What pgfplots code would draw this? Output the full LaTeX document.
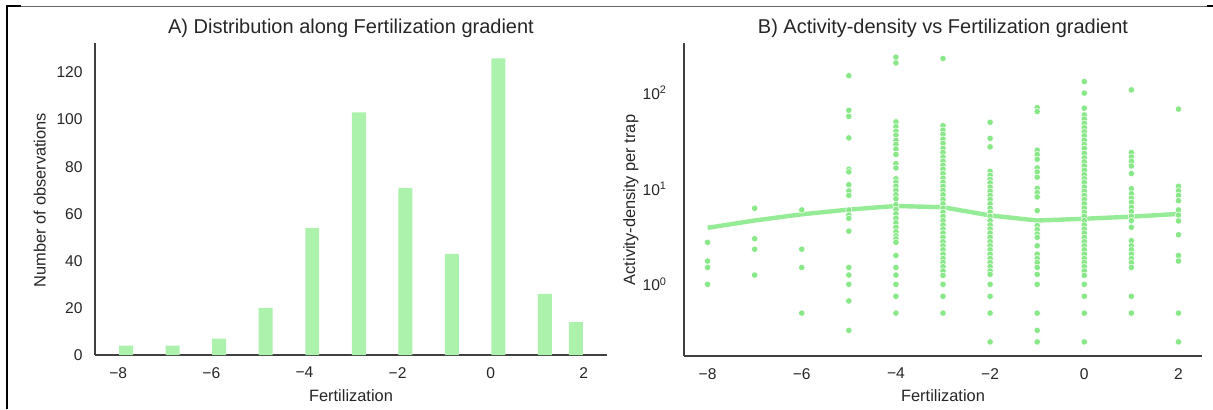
\documentclass[border=0pt]{standalone}
\usepackage{fontspec}
\setmainfont{Liberation Sans}
\usepackage{pgfplots}
\pgfplotsset{compat=1.18}
\definecolor{barg}{RGB}{172,242,172}
\definecolor{dotg}{RGB}{136,232,136}
\definecolor{lineg}{RGB}{150,236,150}
\definecolor{spine}{RGB}{64,64,64}
\definecolor{txt}{RGB}{38,38,38}

\pgfplotsset{
  panel/.style={
    scale only axis, anchor=south west,
    axis x line*=bottom, axis y line*=left,
    axis line style={-, spine, line width=0.6pt},
    major tick length=0pt, minor tick length=0pt,
    enlargelimits=false,
    xmin=-8.5, xmax=2.5,
    xtick={-8,-6,-4,-2,0,2},
    xticklabels={−8,−6,−4,−2,0,2},
    ticklabel style={font=\fontsize{7.8}{9}\selectfont, text=txt},
    xticklabel style={anchor=north, inner sep=0pt, yshift=-5.85pt},
  }
}

\begin{document}
\begin{tikzpicture}
\useasboundingbox (0,0) rectangle (606.5pt,204.5pt);

% frame lines from the screenshot
\draw[line width=0.5pt, black!60] (3.25pt,201.3pt) -- (606.5pt,201.3pt);
\draw[line width=1pt, black] (3.25pt,0pt) -- (3.25pt,201.3pt) -- (10.5pt,201.3pt);
\draw[line width=1pt, black] (603.5pt,201.3pt) -- (606.5pt,201.3pt);

% A) histogram
\begin{axis}[panel, at={(47.5pt,27pt)}, width=256pt, height=156pt,
  ymin=0, ymax=132.5,
  ytick={0,20,40,60,80,100,120},
  yticklabels={0,20,40,60,80,100,120},
  yticklabel style={anchor=east, inner sep=0pt, xshift=-6pt}]
\addplot[ybar, bar width=0.3, bar shift=0pt, fill=barg, draw=none] coordinates {
  (-7.833,4) (-6.833,4) (-5.833,7) (-4.833,20) (-3.833,54) (-2.833,103)
  (-1.833,71) (-0.833,43) (0.167,126) (1.167,26) (1.833,14)
};
\end{axis}

% B) scatter, log y
\begin{axis}[panel, at={(342pt,26.5pt)}, width=259pt, height=156.5pt,
  ymode=log, ymin=0.178, ymax=334,
  ytick={1,10,100},
  yticklabels={10\textsuperscript{0},10\textsuperscript{1},10\textsuperscript{2}},
  yticklabel style={anchor=east, inner sep=0pt, xshift=-8.3pt}]
\addplot[lineg, line width=2.2pt, no marks] coordinates {
  (-8,3.9) (-7,4.65) (-6,5.4) (-5,6.05) (-4,6.6) (-3,6.4)
  (-2,5.25) (-1,4.65) (0,4.85) (1,5.1) (2,5.45)
};
\addplot[only marks, mark=*, mark size=1.6pt,
  mark options={fill=dotg, draw=white, line width=0.25pt}] coordinates {
  (-8,2.75) (-8,1.75) (-8,1.5) (-8,1.0)
  (-7,6.25) (-7,3.0) (-7,2.33) (-7,1.25)
  (-6,6.0) (-6,2.33) (-6,1.5) (-6,0.5)
  (-5,152) (-5,66) (-5,57) (-5,34) (-5,16) (-5,15) (-5,11) (-5,9.5) (-5,8.5)
  (-5,6) (-5,5.3) (-5,4.9) (-5,3.6) (-5,1.5) (-5,1.25) (-5,1.0) (-5,0.67) (-5,0.33)
  (-4,237) (-4,207) (-4,50) (-4,44.5) (-4,40) (-4,36.4) (-4,32) (-4,29) (-4,26)
  (-4,22.8) (-4,18.3) (-4,16.5) (-4,12.7) (-4,11.7) (-4,10.6) (-4,9.6) (-4,8.65)
  (-4,7.85) (-4,6.8) (-4,6.06) (-4,5.46) (-4,4.9) (-4,4.4) (-4,3.95) (-4,3.55)
  (-4,3.22) (-4,3.0) (-4,2.75) (-4,2.0) (-4,1.5) (-4,1.25) (-4,1.0) (-4,0.75) (-4,0.5)
  (-3,230) (-3,45.6) (-3,41) (-3,37) (-3,33) (-3,29.8) (-3,26.4) (-3,23.9) (-3,21.5)
  (-3,19.4) (-3,17.6) (-3,16) (-3,14.4) (-3,12.9) (-3,11.7) (-3,10.6) (-3,9.6)
  (-3,8.65) (-3,7.7) (-3,6.95) (-3,6.25) (-3,5.67) (-3,5.15) (-3,4.63) (-3,4.18)
  (-3,3.79) (-3,3.44) (-3,3.1) (-3,2.79) (-3,2.53) (-3,2.3) (-3,2.07) (-3,1.86)
  (-3,1.69) (-3,1.53) (-3,1.38) (-3,1.24) (-3,1.0) (-3,0.75) (-3,0.5)
  (-2,49.5) (-2,33.6) (-2,27.4) (-2,15.2) (-2,13.8) (-2,12.5) (-2,11.5) (-2,10.4)
  (-2,9.4) (-2,8.5) (-2,7.7) (-2,6.95) (-2,6.25) (-2,5.67) (-2,5.15) (-2,4.63)
  (-2,4.18) (-2,3.79) (-2,3.44) (-2,3.1) (-2,2.79) (-2,2.53) (-2,2.3) (-2,2.07)
  (-2,1.86) (-2,1.69) (-2,1.53) (-2,1.38) (-2,1.27) (-2,1.0) (-2,0.75) (-2,0.5) (-2,0.25)
  (-1,70.6) (-1,64.1) (-1,25.3) (-1,22.8) (-1,20.3) (-1,16.5) (-1,15) (-1,13.2)
  (-1,10.1) (-1,9.1) (-1,8.2) (-1,5.9) (-1,4.11) (-1,3.73) (-1,3.36) (-1,3.1)
  (-1,2.53) (-1,2.07) (-1,1.86) (-1,1.69) (-1,1.5) (-1,1.27) (-1,1.0) (-1,0.5)
  (-1,0.33) (-1,0.25)
  (0,132) (0,100) (0,69.5) (0,59.1) (0,53.6) (0,48.3) (0,43.5) (0,39.4) (0,35.8)
  (0,32.2) (0,29) (0,26.4) (0,23.4) (0,21) (0,19.1) (0,17.3) (0,15.6) (0,14)
  (0,12.7) (0,11.6) (0,10.4) (0,9.4) (0,8.5) (0,7.7) (0,6.95) (0,6.25) (0,5.67)
  (0,5.15) (0,4.63) (0,4.18) (0,3.79) (0,3.44) (0,3.1) (0,2.79) (0,2.53) (0,2.3)
  (0,2.07) (0,1.86) (0,1.69) (0,1.53) (0,1.38) (0,1.24) (0,1.0) (0,0.75) (0,0.5) (0,0.25)
  (1,108) (1,23.9) (1,21.5) (1,19.4) (1,17.3) (1,14.4) (1,10) (1,8.86) (1,7.96)
  (1,7.23) (1,6.4) (1,5.77) (1,5.15) (1,4.63) (1,3.95) (1,2.86) (1,2.53) (1,2.3)
  (1,2.07) (1,1.86) (1,1.69) (1,1.5) (1,0.75) (1,0.5)
  (2,68) (2,10.6) (2,9.5) (2,8.5) (2,7.5) (2,6.0) (2,5.3) (2,4.6) (2,3.3)
  (2,2.0) (2,1.75) (2,0.5) (2,0.25)
};
\end{axis}

% titles and axis labels
\begin{scope}[every node/.style={text=txt}]
\node[font=\fontsize{10}{12}\selectfont, anchor=base] at (175.5pt,188pt)
  {A) Distribution along Fertilization gradient};
\node[font=\fontsize{10}{12}\selectfont, anchor=base] at (471.5pt,188pt)
  {B) Activity-density vs Fertilization gradient};
\node[font=\fontsize{8.2}{10}\selectfont, anchor=base] at (175.5pt,4pt) {Fertilization};
\node[font=\fontsize{8.2}{10}\selectfont, anchor=base] at (471.5pt,4pt) {Fertilization};
\node[font=\fontsize{8.2}{10}\selectfont, anchor=base, rotate=90] at (22.75pt,104.5pt)
  {Number of observations};
\node[font=\fontsize{8.2}{10}\selectfont, anchor=base, rotate=90] at (317.5pt,104.5pt)
  {Activity-density per trap};
\end{scope}
\end{tikzpicture}
\end{document}
